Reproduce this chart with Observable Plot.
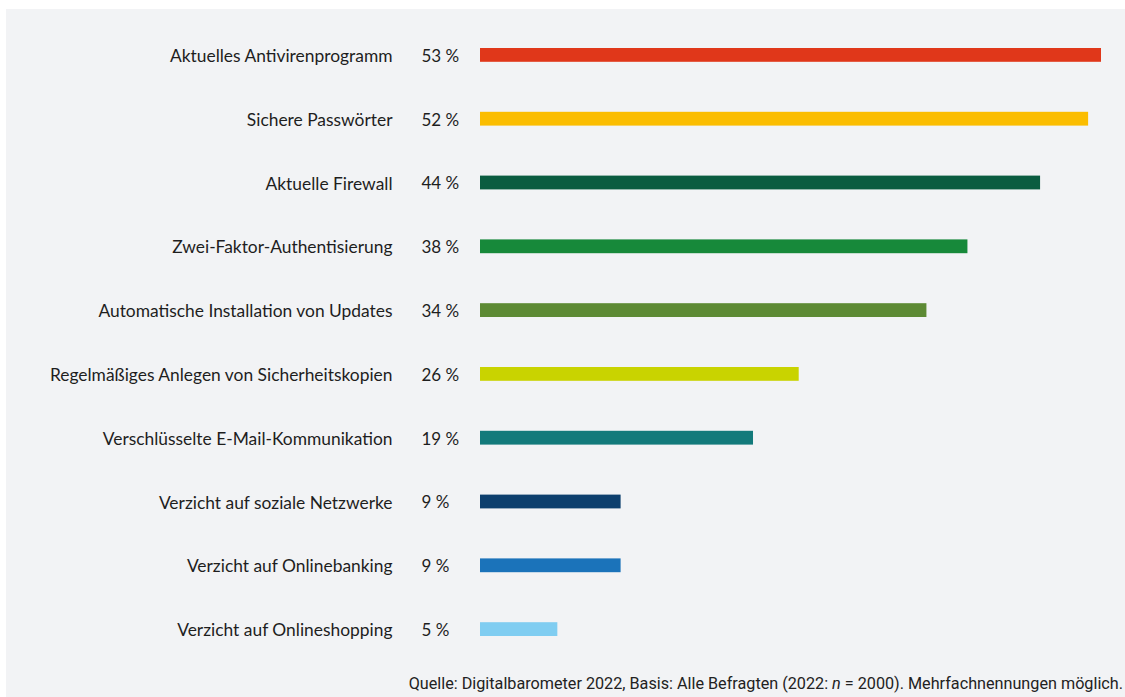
<!DOCTYPE html>
<html>
<head>
<meta charset="utf-8">
<script src="https://cdn.jsdelivr.net/npm/d3@7"></script>
<script src="https://cdn.jsdelivr.net/npm/@observablehq/plot@0.6"></script>
<style>
  html, body { margin: 0; padding: 0; background: #ffffff; }
  #panel {
    position: absolute; left: 6px; top: 9px; width: 1119px; height: 688px;
    background: #f2f3f5; overflow: hidden;
  }
  #chart svg { display: block; }
  #caption {
    position: absolute; right: 2px; top: 665px;
    font-family: Roboto, sans-serif; font-size: 16.2px; line-height: 20px; color: #222;
    white-space: nowrap;
  }
</style>
</head>
<body>
<div id="panel">
  <div id="chart"></div>
  <div id="caption">Quelle: Digitalbarometer 2022, Basis: Alle Befragten (2022: <i>n</i> = 2000). Mehrfachnennungen möglich.</div>
</div>
<script>
// Categories (top to bottom)
const categories = [
  "Aktuelles Antivirenprogramm",
  "Sichere Passwörter",
  "Aktuelle Firewall",
  "Zwei-Faktor-Authentisierung",
  "Automatische Installation von Updates",
  "Regelmäßiges Anlegen von Sicherheitskopien",
  "Verschlüsselte E-Mail-Kommunikation",
  "Verzicht auf soziale Netzwerke",
  "Verzicht auf Onlinebanking",
  "Verzicht auf Onlineshopping"
];
// Percent values as labelled in the reference
const percents = [53, 52, 44, 38, 34, 26, 19, 9, 9, 5];
// Bar lengths as drawn in the reference (in % units)
const barLengths = [53, 51.9, 47.8, 41.6, 38.1, 27.2, 23.3, 12.0, 12.0, 6.6];
const colors = ["#e0371a", "#fbbd00", "#0b5c40", "#17893a", "#5d8a34", "#c9d300", "#137a7b", "#0d3f6d", "#1b73ba", "#80cdf1"];

const data = categories.map((c, i) => ({
  category: c, percent: percents[i], length: barLengths[i], color: colors[i]
}));

const chart = Plot.plot({
  width: 1119,
  height: 660,
  marginLeft: 474,
  marginRight: 24,
  marginTop: 14,
  marginBottom: 8,
  style: { background: "transparent", fontFamily: "Lato, sans-serif" },
  x: { domain: [0, 53], axis: null },
  y: { domain: categories, padding: 0, round: false, axis: null },
  marks: [
    Plot.barX(data, {
      x: "length", y: "category", fill: "color",
      insetTop: 25, insetBottom: 25
    }),
    Plot.text(data, {
      x: 0, y: "category", text: "category",
      dx: -88, dy: 1, textAnchor: "end", fontSize: 17.4, fill: "#1e1e1e"
    }),
    Plot.text(data, {
      x: 0, y: "category", text: d => d.percent + " %",
      dx: -59, dy: 1, textAnchor: "start", fontSize: 17, fill: "#1e1e1e"
    })
  ]
});
document.getElementById("chart").appendChild(chart);
</script>
</body>
</html>
